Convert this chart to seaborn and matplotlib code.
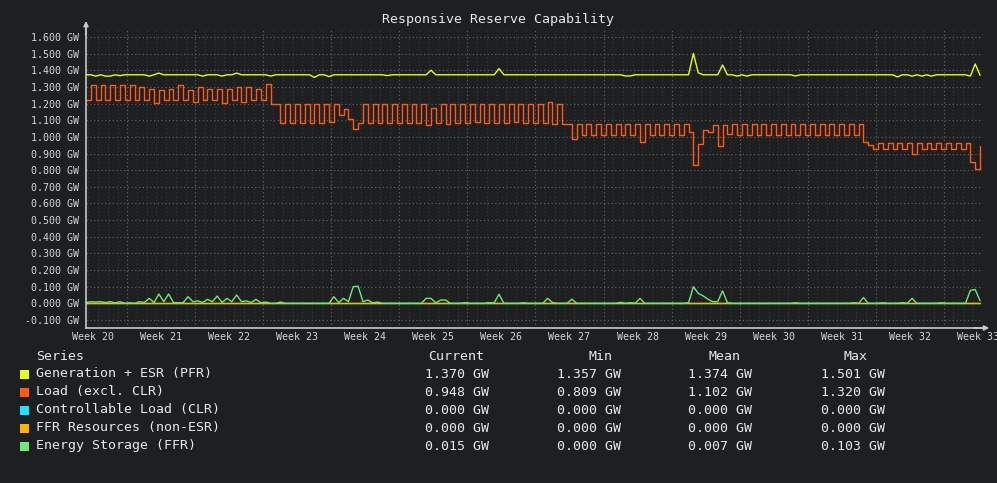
import numpy as np
import pandas as pd
import matplotlib
matplotlib.use('Agg')
import matplotlib.pyplot as plt
from matplotlib.patches import Rectangle
from matplotlib.ticker import FixedLocator
import seaborn as sns

# samples every half day, day 0 = left edge of the plot
days = np.arange(0, 92.5, 0.5)

# Generation + ESR (PFR), GW
gen_pfr = [
    1.373, 1.373, 1.365, 1.373, 1.365, 1.365, 1.373, 1.368, 1.373, 1.373, 1.373, 1.373, 1.373, 1.365,
    1.373, 1.383, 1.373, 1.373, 1.373, 1.373, 1.373, 1.373, 1.373, 1.373, 1.365, 1.373, 1.373, 1.373,
    1.365, 1.373, 1.373, 1.383, 1.373, 1.373, 1.373, 1.373, 1.373, 1.373, 1.365, 1.373, 1.373, 1.373,
    1.373, 1.373, 1.373, 1.373, 1.373, 1.357, 1.373, 1.373, 1.362, 1.373, 1.373, 1.373, 1.373, 1.373,
    1.373, 1.373, 1.373, 1.373, 1.373, 1.373, 1.368, 1.373, 1.373, 1.373, 1.373, 1.373, 1.373, 1.373,
    1.373, 1.400, 1.373, 1.373, 1.373, 1.373, 1.373, 1.373, 1.373, 1.373, 1.373, 1.373, 1.373, 1.373,
    1.373, 1.410, 1.373, 1.373, 1.373, 1.373, 1.373, 1.373, 1.373, 1.373, 1.373, 1.373, 1.373, 1.373,
    1.373, 1.373, 1.373, 1.373, 1.373, 1.373, 1.373, 1.373, 1.373, 1.373, 1.373, 1.373, 1.373, 1.366,
    1.366, 1.373, 1.373, 1.373, 1.373, 1.373, 1.373, 1.373, 1.373, 1.373, 1.373, 1.373, 1.373, 1.501,
    1.385, 1.373, 1.373, 1.373, 1.373, 1.432, 1.373, 1.373, 1.365, 1.373, 1.365, 1.373, 1.373, 1.373,
    1.373, 1.373, 1.373, 1.373, 1.373, 1.373, 1.366, 1.373, 1.373, 1.373, 1.373, 1.373, 1.373, 1.373,
    1.373, 1.373, 1.373, 1.373, 1.373, 1.373, 1.373, 1.373, 1.373, 1.373, 1.373, 1.373, 1.373, 1.360,
    1.373, 1.373, 1.365, 1.373, 1.365, 1.373, 1.365, 1.373, 1.373, 1.373, 1.373, 1.373, 1.373, 1.373,
    1.365, 1.438, 1.370,
]

# Load (excl. CLR), GW
load = [
    1.22, 1.31, 1.22, 1.31, 1.22, 1.31, 1.22, 1.31, 1.22, 1.31, 1.22, 1.30, 1.22, 1.29,
    1.205, 1.28, 1.22, 1.29, 1.22, 1.31, 1.22, 1.28, 1.21, 1.30, 1.22, 1.29, 1.22, 1.29,
    1.205, 1.29, 1.22, 1.30, 1.21, 1.30, 1.22, 1.29, 1.22, 1.32, 1.20, 1.20, 1.085, 1.20,
    1.085, 1.20, 1.085, 1.20, 1.085, 1.20, 1.085, 1.20, 1.09, 1.20, 1.13, 1.165, 1.11, 1.05,
    1.085, 1.20, 1.085, 1.20, 1.085, 1.20, 1.085, 1.20, 1.085, 1.20, 1.085, 1.20, 1.085, 1.20,
    1.07, 1.175, 1.085, 1.20, 1.075, 1.20, 1.085, 1.20, 1.085, 1.20, 1.09, 1.20, 1.085, 1.20,
    1.085, 1.20, 1.085, 1.20, 1.09, 1.20, 1.085, 1.20, 1.085, 1.20, 1.085, 1.21, 1.08, 1.20,
    1.08, 1.08, 0.985, 1.075, 1.01, 1.078, 1.01, 1.078, 1.01, 1.078, 1.01, 1.078, 1.01, 1.078,
    1.01, 1.078, 0.97, 1.078, 1.01, 1.08, 1.01, 1.08, 1.01, 1.08, 1.01, 1.078, 1.03, 0.83,
    0.96, 1.04, 1.03, 1.07, 0.945, 1.07, 1.02, 1.08, 1.01, 1.077, 1.01, 1.077, 1.01, 1.077,
    1.01, 1.077, 1.01, 1.077, 1.01, 1.077, 1.01, 1.077, 1.01, 1.077, 1.01, 1.077, 1.01, 1.077,
    1.01, 1.077, 1.01, 1.077, 1.01, 1.077, 0.97, 0.95, 0.926, 0.962, 0.926, 0.962, 0.926, 0.962,
    0.926, 0.962, 0.90, 0.962, 0.926, 0.962, 0.926, 0.962, 0.926, 0.962, 0.926, 0.962, 0.926, 0.962,
    0.85, 0.81, 0.948,
]

# Controllable Load (CLR) and FFR Resources (non-ESR) sit at 0 the whole time
clr = [0.0] * len(days)
ffr = [0.0] * len(days)

# Energy Storage (FFR), GW
storage = [
    0.005, 0.010, 0.008, 0.010, 0.005, 0.010, 0.003, 0.010, 0.0, 0.003, 0.0, 0.010, 0.005, 0.030,
    0.005, 0.056, 0.010, 0.056, 0.005, 0.003, 0.005, 0.040, 0.010, 0.015, 0.005, 0.024, 0.010, 0.044,
    0.005, 0.030, 0.010, 0.050, 0.010, 0.015, 0.005, 0.024, 0.003, 0.008, 0.0, 0.0, 0.008, 0.0,
    0.0, 0.0, 0.0, 0.0, 0.0, 0.0, 0.0, 0.0, 0.0, 0.040, 0.005, 0.030, 0.010, 0.100,
    0.103, 0.010, 0.020, 0.003, 0.008, 0.0, 0.0, 0.0, 0.0, 0.0, 0.0, 0.0, 0.0, 0.0,
    0.030, 0.030, 0.003, 0.020, 0.020, 0.0, 0.0, 0.0, 0.004, 0.0, 0.0, 0.0, 0.0, 0.004,
    0.003, 0.055, 0.0, 0.0, 0.0, 0.0, 0.004, 0.0, 0.0, 0.0, 0.0, 0.030, 0.005, 0.0,
    0.0, 0.0, 0.025, 0.0, 0.0, 0.0, 0.0, 0.0, 0.0, 0.0, 0.0, 0.0, 0.006, 0.0,
    0.004, 0.0, 0.030, 0.0, 0.0, 0.0, 0.0, 0.0, 0.0, 0.0, 0.0, 0.0, 0.004, 0.100,
    0.060, 0.045, 0.025, 0.010, 0.010, 0.075, 0.004, 0.0, 0.0, 0.0, 0.0, 0.0, 0.0, 0.0,
    0.0, 0.0, 0.0, 0.0, 0.0, 0.0, 0.004, 0.0, 0.0, 0.0, 0.0, 0.0, 0.0, 0.0,
    0.0, 0.0, 0.0, 0.0, 0.004, 0.0, 0.035, 0.0, 0.0, 0.0, 0.004, 0.0, 0.0, 0.0,
    0.004, 0.0, 0.030, 0.0, 0.0, 0.0, 0.0, 0.0, 0.004, 0.0, 0.0, 0.0, 0.0, 0.0,
    0.078, 0.083, 0.015,
]

series_names = ['Generation + ESR (PFR)', 'Load (excl. CLR)', 'Controllable Load (CLR)',
                'FFR Resources (non-ESR)', 'Energy Storage (FFR)']
series_values = [gen_pfr, load, clr, ffr, storage]
colors = ['#e0ff1a', '#ff5a1a', '#1ee4ff', '#ffb300', '#6ee878']

# legend statistics as printed under the chart
stat_current = ['1.370 GW', '0.948 GW', '0.000 GW', '0.000 GW', '0.015 GW']
stat_min = ['1.357 GW', '0.809 GW', '0.000 GW', '0.000 GW', '0.000 GW']
stat_mean = ['1.374 GW', '1.102 GW', '0.000 GW', '0.000 GW', '0.007 GW']
stat_max = ['1.501 GW', '1.320 GW', '0.000 GW', '0.000 GW', '0.103 GW']

week_labels = ['Week %d' % w for w in range(20, 34)]
yticks = [i / 10 for i in range(-1, 17)]

bg = '#1e1f21'
axis_col = '#c8c8c8'
text_col = '#e8e8e8'

sns.set_theme(style='dark', rc={'axes.facecolor': bg, 'figure.facecolor': bg,
                                'savefig.facecolor': bg})
plt.rcParams['font.family'] = ['DejaVu Sans Mono']

W, H = 997, 483
fig = plt.figure(figsize=(W / 100, H / 100), dpi=100)
ax = fig.add_axes([86 / W, 1 - 328 / H, 897 / W, 299 / H])

frames = []
for name, vals in zip(series_names, series_values):
    frames.append(pd.DataFrame({'day': days, 'gw': vals, 'series': name}))
data = pd.concat(frames, ignore_index=True)

for name, col in zip(series_names, colors):
    sub = data[data['series'] == name]
    style = 'steps-post' if name == 'Load (excl. CLR)' else 'default'
    sns.lineplot(data=sub, x='day', y='gw', color=col, lw=1.0, ax=ax,
                 drawstyle=style, legend=False, errorbar=None)

ax.set_xlim(0, 92.3)
ax.set_ylim(-0.148, 1.648)
ax.set_xlabel('')
ax.set_ylabel('')

# week boundaries get the bright grid, days get the faint one
week_starts = [4.25 + 7 * k for k in range(13)]
day_lines = [0.25 + k for k in range(93)]
ax.xaxis.set_major_locator(FixedLocator(week_starts))
ax.xaxis.set_minor_locator(FixedLocator(day_lines))
ax.set_yticks(yticks)
ax.set_yticklabels(['%.3f GW' % v for v in yticks])

dots = (0, (1, 2))
ax.grid(axis='y', which='major', color='#5c5c5c', ls=dots, lw=0.9)
ax.grid(axis='x', which='major', color='#5c5c5c', ls=dots, lw=0.9)
ax.grid(axis='x', which='minor', color='#353638', ls=dots, lw=0.9)
ax.set_axisbelow(True)

ax.tick_params(axis='x', which='major', length=3, width=1, color=axis_col,
               labelbottom=False, direction='out')
ax.tick_params(axis='x', which='minor', length=0)
ax.tick_params(axis='y', which='major', length=3, width=1, color=axis_col,
               labelsize=7.2, labelcolor='#d6d6d6', pad=2, direction='out')

for side in ['top', 'right']:
    ax.spines[side].set_visible(False)
for side in ['left', 'bottom']:
    ax.spines[side].set_color(axis_col)
    ax.spines[side].set_linewidth(1.2)

# week names sit in the middle of each week
for k, lab in enumerate(week_labels):
    ax.text(0.75 + 7 * k, -0.03, lab, transform=ax.get_xaxis_transform(),
            ha='center', va='center', fontsize=7.2, color='#d6d6d6', clip_on=False)

# arrow heads on the axes
arrow = dict(arrowstyle='-|>', color=axis_col, lw=1.2, mutation_scale=7,
             shrinkA=0, shrinkB=0)
ax.annotate('', xy=(0, 1.027), xytext=(0, 0.98), xycoords='axes fraction', arrowprops=arrow)
ax.annotate('', xy=(1.007, 0), xytext=(0.99, 0), xycoords='axes fraction', arrowprops=arrow)


def fx(x):
    return x / W


def fy(y):
    return 1 - y / H


fig.text(fx(498), fy(19), 'Responsive Reserve Capability', ha='center', va='center',
         fontsize=9.5, color=text_col)

# legend table
fig.text(fx(36), fy(356), 'Series', ha='left', va='center', fontsize=9.5, color=text_col)
headers = ['Current', 'Min', 'Mean', 'Max']
header_x = [456, 600, 724, 855]
value_x = [456.5, 588.5, 720, 852.5]
for h, hx in zip(headers, header_x):
    fig.text(fx(hx), fy(356), h, ha='center', va='center', fontsize=9.5, color=text_col)

stats = [stat_current, stat_min, stat_mean, stat_max]
for i, (name, col) in enumerate(zip(series_names, colors)):
    row_y = 374 + 18 * i
    fig.add_artist(Rectangle((fx(20), fy(row_y + 4.5)), 9 / W, 9 / H,
                             transform=fig.transFigure, facecolor=col, edgecolor='none'))
    fig.text(fx(36), fy(row_y), name, ha='left', va='center', fontsize=9.5, color=text_col)
    for col_stats, vx in zip(stats, value_x):
        fig.text(fx(vx), fy(row_y), col_stats[i], ha='center', va='center',
                 fontsize=9.5, color=text_col)

fig.savefig('out.png', dpi=100)
